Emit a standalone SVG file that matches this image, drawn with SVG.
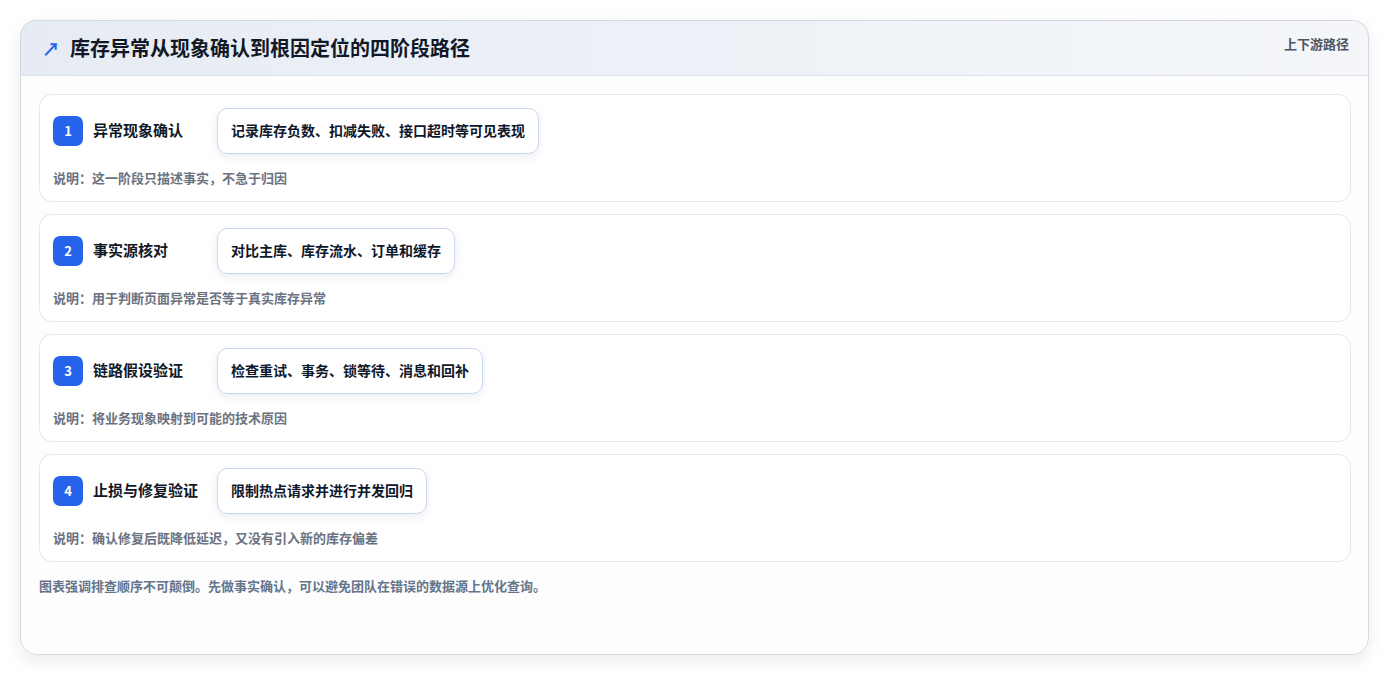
<svg xmlns="http://www.w3.org/2000/svg" width="1390" height="676" viewBox="0 0 1390 676">
<defs>
<linearGradient id="hdr" x1="0" y1="0" x2="1" y2="0">
<stop offset="0" stop-color="#e7ecf4"/>
<stop offset="1" stop-color="#f4f6f9"/>
</linearGradient>
<filter id="outerShadow" x="-5%" y="-5%" width="110%" height="115%">
<feDropShadow dx="0" dy="6" stdDeviation="8" flood-color="#0f172a" flood-opacity="0.08"/>
</filter>
<filter id="pillShadow" x="-10%" y="-30%" width="120%" height="170%">
<feDropShadow dx="0" dy="3" stdDeviation="4" flood-color="#1e3a8a" flood-opacity="0.08"/>
</filter>
<clipPath id="cardClip"><rect x="20" y="20" width="1349" height="635" rx="16"/></clipPath>
</defs>
<style>
.cjk{font-family:"Noto Sans CJK SC","Noto Sans",sans-serif;}
.card{fill:#ffffff;stroke:#e1e8f1;stroke-width:1;}
.badge{fill:#2563eb;}
.num{fill:#ffffff;font-size:13px;font-weight:700;}
.stitle{fill:#111827;font-size:15px;font-weight:700;}
.pill{fill:#ffffff;stroke:#c6d5e9;stroke-width:1;}
.ptext{fill:#0f172a;font-size:14px;font-weight:700;}
.desc{fill:#6b7280;font-size:13px;font-weight:700;}
</style>
<rect width="1390" height="676" fill="#ffffff"/>
<g id="frame">
<rect x="20" y="20" width="1349" height="635" rx="16" fill="#fdfdfe" filter="url(#outerShadow)"/>
<g clip-path="url(#cardClip)">
<rect x="20" y="20" width="1349" height="55" fill="url(#hdr)"/>
<line x1="20" y1="75.5" x2="1369" y2="75.5" stroke="#dbe3ee" stroke-width="1"/>
</g>
<rect x="20.5" y="20.5" width="1348" height="634" rx="16" fill="none" stroke="#d3d9e1" stroke-width="1"/>
</g>
<g id="header">
<text x="42" y="56" class="cjk" font-size="18" font-weight="700" fill="#2563eb">↗</text>
<text x="70" y="56" class="cjk" font-size="20" font-weight="700" fill="#111827">库存异常从现象确认到根因定位的四阶段路径</text>
<text x="1349" y="49" class="cjk" font-size="13" font-weight="700" fill="#4b5563" text-anchor="end">上下游路径</text>
</g>
<g id="connectors"></g>
<g id="stage1">
<rect class="card" x="39.5" y="94.5" width="1311" height="107" rx="12"/>
<rect class="badge" x="53" y="116" width="30" height="30" rx="7"/>
<text class="cjk num" x="68" y="135.5" text-anchor="middle">1</text>
<text class="cjk stitle" x="93" y="136">异常现象确认</text>
<rect class="pill" x="217.5" y="108.5" width="321" height="45" rx="10" filter="url(#pillShadow)"/>
<text class="cjk ptext" x="231" y="135.5">记录库存负数、扣减失败、接口超时等可见表现</text>
<text class="cjk desc" x="53" y="183">说明：这一阶段只描述事实，不急于归因</text>
</g>
<g id="stage2">
<rect class="card" x="39.5" y="214.5" width="1311" height="107" rx="12"/>
<rect class="badge" x="53" y="236" width="30" height="30" rx="7"/>
<text class="cjk num" x="68" y="255.5" text-anchor="middle">2</text>
<text class="cjk stitle" x="93" y="256">事实源核对</text>
<rect class="pill" x="217.5" y="228.5" width="237" height="45" rx="10" filter="url(#pillShadow)"/>
<text class="cjk ptext" x="231" y="255.5">对比主库、库存流水、订单和缓存</text>
<text class="cjk desc" x="53" y="303">说明：用于判断页面异常是否等于真实库存异常</text>
</g>
<g id="stage3">
<rect class="card" x="39.5" y="334.5" width="1311" height="107" rx="12"/>
<rect class="badge" x="53" y="356" width="30" height="30" rx="7"/>
<text class="cjk num" x="68" y="375.5" text-anchor="middle">3</text>
<text class="cjk stitle" x="93" y="376">链路假设验证</text>
<rect class="pill" x="217.5" y="348.5" width="265" height="45" rx="10" filter="url(#pillShadow)"/>
<text class="cjk ptext" x="231" y="375.5">检查重试、事务、锁等待、消息和回补</text>
<text class="cjk desc" x="53" y="423">说明：将业务现象映射到可能的技术原因</text>
</g>
<g id="stage4">
<rect class="card" x="39.5" y="454.5" width="1311" height="107" rx="12"/>
<rect class="badge" x="53" y="476" width="30" height="30" rx="7"/>
<text class="cjk num" x="68" y="495.5" text-anchor="middle">4</text>
<text class="cjk stitle" x="93" y="496">止损与修复验证</text>
<rect class="pill" x="217.5" y="468.5" width="209" height="45" rx="10" filter="url(#pillShadow)"/>
<text class="cjk ptext" x="231" y="495.5">限制热点请求并进行并发回归</text>
<text class="cjk desc" x="53" y="543">说明：确认修复后既降低延迟，又没有引入新的库存偏差</text>
</g>
<g id="footer">
<text class="cjk" x="39" y="590.5" font-size="13" font-weight="700" fill="#64748b">图表强调排查顺序不可颠倒。先做事实确认，可以避免团队在错误的数据源上优化查询。</text>
</g>
</svg>
